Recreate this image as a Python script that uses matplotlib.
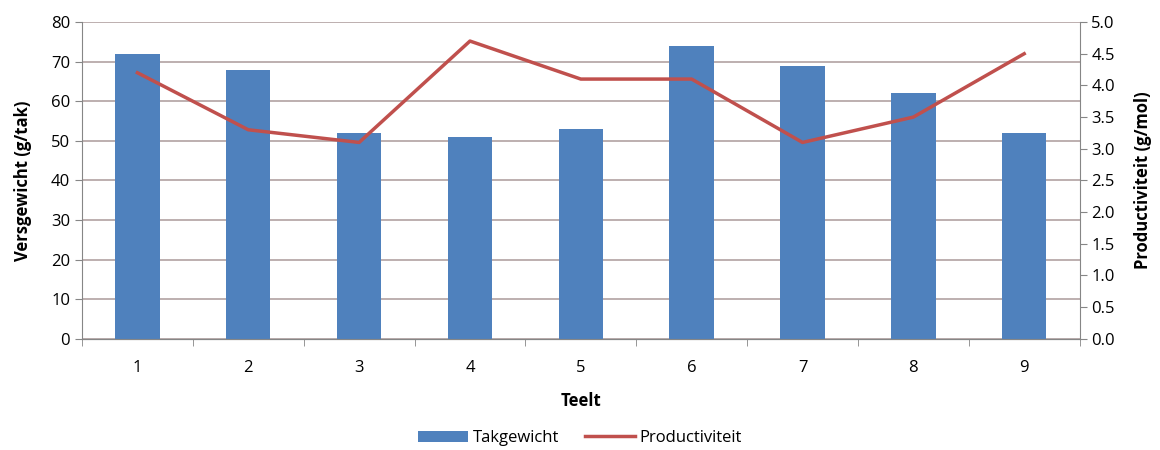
import matplotlib.pyplot as plt
import numpy as np

# data
teelt = [1, 2, 3, 4, 5, 6, 7, 8, 9]
takgewicht = [72, 68, 52, 51, 53, 74, 69, 62, 52]
productiviteit = [4.2, 3.3, 3.1, 4.7, 4.1, 4.1, 3.1, 3.5, 4.5]

plt.rcParams['font.family'] = ['Open Sans', 'DejaVu Sans']
plt.rcParams['font.size'] = 12

fig = plt.figure(figsize=(11.6, 4.5), dpi=100)
ax = fig.add_axes([0.0707, 0.247, 0.860, 0.704])
ax2 = ax.twinx()

x = np.arange(len(teelt))
bars = ax.bar(x, takgewicht, width=0.4, color="#4F81BD", label="Takgewicht", zorder=3)
line, = ax2.plot(x, productiviteit, color="#C0504D", lw=2.5, label="Productiviteit", zorder=4)

ax.set_xlim(-0.5, len(teelt) - 0.5)
ax.set_ylim(0, 80)
ax.set_yticks(range(0, 81, 10))
ax2.set_ylim(0, 5)
ax2.set_yticks(np.arange(0, 5.01, 0.5))
ax2.set_yticklabels([f"{v:.1f}" for v in np.arange(0, 5.01, 0.5)])

ax.set_xticks(x)
ax.set_xticklabels([str(t) for t in teelt])
ax.set_xticks(np.arange(-0.5, len(teelt), 1), minor=True)
ax.tick_params(axis="x", which="major", length=0, pad=15)
ax.tick_params(axis="x", which="minor", length=5, color="#868686")
ax.tick_params(axis="y", length=5, color="#868686")
ax2.tick_params(axis="y", length=5, color="#868686")

ax.yaxis.grid(True, color="#b8a9a9", lw=1.3, zorder=0)
ax.set_axisbelow(True)

for a in (ax, ax2):
    a.spines["top"].set_visible(False)
    for s in ("left", "right", "bottom"):
        a.spines[s].set_color("#868686")
ax2.spines["left"].set_visible(False)
ax.spines["right"].set_visible(False)

ax.set_xlabel("Teelt", fontweight="bold", labelpad=12)
ax.set_ylabel("Versgewicht (g/tak)", fontweight="bold", labelpad=14)
ax2.set_ylabel("Productiviteit (g/mol)", fontweight="bold", labelpad=14)

fig.legend(handles=[bars, line], labels=["Takgewicht", "Productiviteit"],
           loc="lower center", bbox_to_anchor=(0.5, -0.025), ncol=2, frameon=False,
           handlelength=3, columnspacing=1.5, handletextpad=0.3)

fig.savefig("out.png", dpi=100)
